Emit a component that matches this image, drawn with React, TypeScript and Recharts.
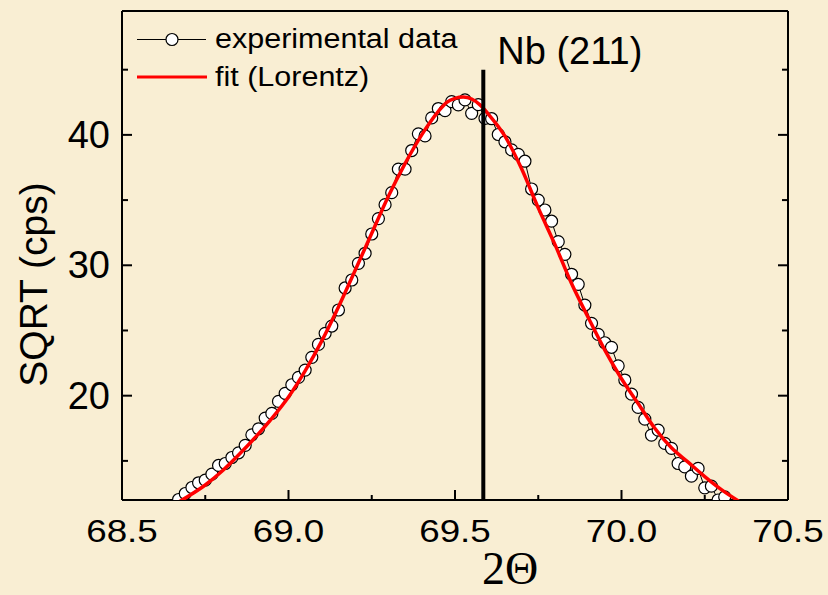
import React from "react";
import { ComposedChart, Line, XAxis, YAxis, ReferenceLine, Legend } from "recharts";

// experimental points: 2theta vs sqrt(counts per second)
const expTheta = [
  68.67, 68.69, 68.71, 68.73, 68.75, 68.77, 68.79, 68.81, 68.83, 68.85,
  68.87, 68.89, 68.91, 68.93, 68.95, 68.97, 68.99, 69.01, 69.03, 69.05,
  69.07, 69.09, 69.11, 69.13, 69.15, 69.17, 69.19, 69.21, 69.23, 69.25,
  69.27, 69.29, 69.31, 69.33, 69.35, 69.37, 69.39, 69.41, 69.43, 69.45,
  69.47, 69.49, 69.51, 69.53, 69.55, 69.57, 69.59, 69.61, 69.63, 69.65,
  69.67, 69.69, 69.71, 69.73, 69.75, 69.77, 69.79, 69.81, 69.83, 69.85,
  69.87, 69.89, 69.91, 69.93, 69.95, 69.97, 69.99, 70.01, 70.03, 70.05,
  70.07, 70.09, 70.11, 70.13, 70.15, 70.17, 70.19, 70.21, 70.23, 70.25,
  70.27, 70.29, 70.31,
];
const expSqrt = [
  12.04, 12.5, 12.96, 13.32, 13.52, 13.98, 14.65, 14.8, 15.26, 15.62,
  16.19, 17.0, 17.46, 18.28, 18.64, 19.56, 20.18, 20.84, 21.4, 21.96,
  22.94, 23.93, 24.78, 25.34, 26.57, 28.26, 28.87, 30.15, 30.92, 32.4,
  33.58, 34.65, 35.57, 37.37, 37.37, 38.8, 40.08, 39.92, 41.3, 42.02,
  41.86, 42.55, 42.3, 42.68, 41.65, 42.32, 41.27, 41.24, 40.03, 39.47,
  38.85, 38.5, 37.98, 35.85, 35.0, 34.24, 33.38, 31.81, 30.84, 29.31,
  28.54, 26.95, 25.55, 24.7, 24.06, 23.71, 22.29, 21.2, 20.12, 19.1,
  18.2, 16.98, 17.36, 16.34, 15.96, 14.8, 14.54, 13.83, 14.42, 12.93,
  13.06, 12.0, 12.24,
];

// Lorentz fit
const fitTheta = [
  68.65, 68.7, 68.75, 68.8, 68.85, 68.9, 68.95, 69.0, 69.05, 69.1,
  69.15, 69.2, 69.25, 69.3, 69.35, 69.4, 69.45, 69.475, 69.5, 69.525,
  69.55, 69.575, 69.6, 69.65, 69.7, 69.75, 69.8, 69.85, 69.9, 69.95,
  70.0, 70.05, 70.1, 70.15, 70.2, 70.25, 70.3, 70.35, 70.4,
];
const fitSqrt = [
  11.55, 12.3, 13.15, 14.2, 15.45, 16.8, 18.26, 19.9, 21.9, 24.2,
  26.8, 29.6, 32.46, 35.3, 37.8, 40.0, 41.8, 42.5, 42.8, 42.9,
  42.75, 42.3, 41.6, 39.9, 37.4, 34.4, 31.6, 28.6, 26.0, 23.5,
  21.3, 19.4, 17.5, 16.0, 14.9, 13.8, 12.8, 11.95, 11.2,
];

const xTicks = [68.5, 68.75, 69.0, 69.25, 69.5, 69.75, 70.0, 70.25, 70.5];
const yTicks = [15, 20, 25, 30, 35, 40, 45];
const peakPos = 69.585;
const peakLabel = "Nb (211)";
const expName = "experimental data";
const fitName = "fit (Lorentz)";

const expData = expTheta.map((x, i) => ({ x, y: expSqrt[i] }));
const fitData = fitTheta.map((x, i) => ({ x, y: fitSqrt[i] }));

const SANS = "'Liberation Sans', Arial, sans-serif";
const SERIF = "'Liberation Serif', 'Times New Roman', serif";

const majorX = (v: number) => Math.abs(v * 2 - Math.round(v * 2)) < 1e-6;
const majorY = (v: number) => v % 10 === 0;

function BottomTick({ x, y, payload }: any) {
  const v = payload.value;
  const big = majorX(v);
  return (
    <g>
      <line x1={x} y1={y} x2={x} y2={y - (big ? 10 : 5)} stroke="#000" strokeWidth={2} />
      {big && (
        <text
          transform={`translate(${x},${y + 42}) scale(1.15,1)`}
          textAnchor="middle"
          fontSize={32}
          fontFamily={SANS}
          fill="#000"
        >
          {v.toFixed(1)}
        </text>
      )}
    </g>
  );
}

function TopTick({ x, y, payload }: any) {
  const big = majorX(payload.value);
  return <line x1={x} y1={y} x2={x} y2={y + (big ? 10 : 5)} stroke="#000" strokeWidth={2} />;
}

function LeftTick({ x, y, payload }: any) {
  const v = payload.value;
  const big = majorY(v);
  return (
    <g>
      <line x1={x} y1={y} x2={x + (big ? 10 : 6)} y2={y} stroke="#000" strokeWidth={2} />
      {big && (
        <text x={x - 12} y={y + 13} textAnchor="end" fontSize={38} fontFamily={SANS} fill="#000">
          {v}
        </text>
      )}
    </g>
  );
}

function RightTick({ x, y, payload }: any) {
  const big = majorY(payload.value);
  return <line x1={x} y1={y} x2={x - (big ? 10 : 6)} y2={y} stroke="#000" strokeWidth={2} />;
}

function LegendBox() {
  return (
    <svg width={480} height={100} style={{ display: "block" }}>
      <line x1={137} y1={39.5} x2={206} y2={39.5} stroke="#000" strokeWidth={1} />
      <circle cx={172} cy={39.5} r={6} fill="#fff" stroke="#000" strokeWidth={1.2} />
      <text transform="translate(215,48) scale(1.13,1)" fontSize={27} fontFamily={SANS} fill="#000">
        {expName}
      </text>
      <line x1={137} y1={77} x2={207} y2={77} stroke="#ff0000" strokeWidth={3} />
      <text transform="translate(215,86) scale(1.13,1)" fontSize={27} fontFamily={SANS} fill="#000">
        {fitName}
      </text>
    </svg>
  );
}

export default function App() {
  return (
    <div
      style={{
        position: "absolute",
        left: 0,
        top: 0,
        width: 828,
        height: 595,
        background: "#f9eed3",
      }}
    >
      <ComposedChart width={828} height={595} margin={{ top: 10, right: 39, bottom: 94, left: 121 }}>
        <XAxis
          xAxisId="b"
          type="number"
          dataKey="x"
          domain={[68.5, 70.5]}
          ticks={xTicks}
          interval={0}
          allowDataOverflow
          height={1}
          tickSize={0}
          tickMargin={0}
          tickLine={false}
          tick={<BottomTick />}
          axisLine={{ stroke: "#000", strokeWidth: 2 }}
          label={{
            content: ({ viewBox }: any) => (
              <text
                x={viewBox.x + viewBox.width / 2 + 55}
                y={viewBox.y + 84}
                textAnchor="middle"
                fontSize={46}
                fontFamily={SERIF}
                fill="#000"
              >
                2Θ
              </text>
            ),
          }}
        />
        <XAxis
          xAxisId="t"
          orientation="top"
          type="number"
          domain={[68.5, 70.5]}
          ticks={xTicks}
          interval={0}
          allowDataOverflow
          height={1}
          tickSize={0}
          tickMargin={0}
          tickLine={false}
          tick={<TopTick />}
          axisLine={{ stroke: "#000", strokeWidth: 2 }}
        />
        <YAxis
          yAxisId="l"
          type="number"
          domain={[12, 49.5]}
          ticks={yTicks}
          interval={0}
          allowDataOverflow
          width={1}
          tickSize={0}
          tickMargin={0}
          tickLine={false}
          tick={<LeftTick />}
          axisLine={{ stroke: "#000", strokeWidth: 2 }}
          label={{
            content: ({ viewBox }: any) => {
              const cx = viewBox.x - 74;
              const cy = viewBox.y + viewBox.height / 2 + 29;
              return (
                <text
                  transform={`translate(${cx},${cy}) rotate(-90)`}
                  textAnchor="middle"
                  fontSize={39}
                  fontFamily={SANS}
                  fill="#000"
                >
                  SQRT (cps)
                </text>
              );
            },
          }}
        />
        <YAxis
          yAxisId="r"
          orientation="right"
          type="number"
          domain={[12, 49.5]}
          ticks={yTicks}
          interval={0}
          allowDataOverflow
          width={1}
          tickSize={0}
          tickMargin={0}
          tickLine={false}
          tick={<RightTick />}
          axisLine={{ stroke: "#000", strokeWidth: 2 }}
        />
        <Legend
          layout="horizontal"
          verticalAlign="middle"
          align="center"
          wrapperStyle={{ left: 0, top: 0, width: 480, height: 100 }}
          content={() => <LegendBox />}
        />
        <Line
          xAxisId="b"
          yAxisId="l"
          data={expData}
          dataKey="y"
          name={expName}
          type="linear"
          stroke="#000"
          strokeWidth={1}
          dot={{ r: 6, fill: "#fff", stroke: "#000", strokeWidth: 1.2 }}
          isAnimationActive={false}
        />
        <Line
          xAxisId="b"
          yAxisId="l"
          data={fitData}
          dataKey="y"
          name={fitName}
          type="monotone"
          stroke="#ff0000"
          strokeWidth={3.5}
          dot={false}
          zIndex={1500}
          isAnimationActive={false}
        />
        <ReferenceLine
          xAxisId="b"
          yAxisId="l"
          segment={[
            { x: peakPos, y: 12 },
            { x: peakPos, y: 45 },
          ]}
          stroke="#000"
          strokeWidth={4}
          zIndex={1600}
          label={{
            content: ({ viewBox }: any) => (
              <text x={viewBox.x + 14} y={viewBox.y - 6} fontSize={38} fontFamily={SANS} fill="#000">
                {peakLabel}
              </text>
            ),
          }}
        />
      </ComposedChart>
    </div>
  );
}
